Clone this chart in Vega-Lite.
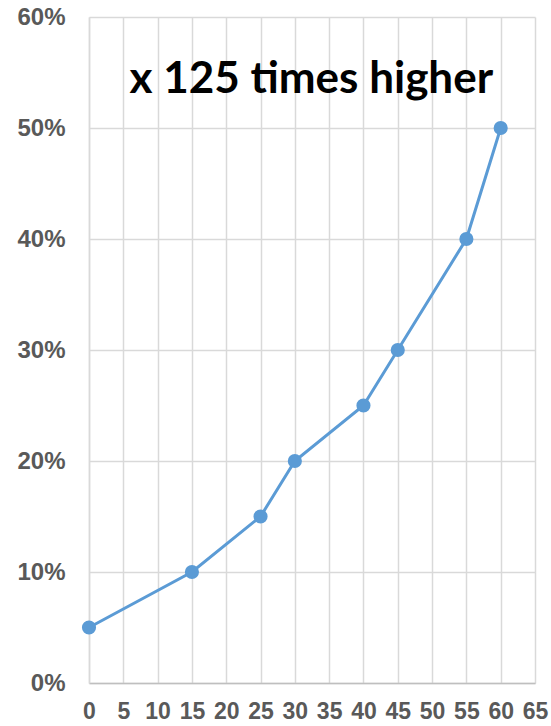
{
  "$schema": "https://vega.github.io/schema/vega-lite/v6.json",
  "width": 446,
  "height": 666,
  "autosize": "none",
  "padding": {"left": 89, "top": 17, "right": 16, "bottom": 43},
  "background": "white",
  "config": {"view": {"stroke": null}},
  "datasets": {
    "series": [
      {"age": 0, "rate": 0.05},
      {"age": 15, "rate": 0.10},
      {"age": 25, "rate": 0.15},
      {"age": 30, "rate": 0.20},
      {"age": 40, "rate": 0.25},
      {"age": 45, "rate": 0.30},
      {"age": 55, "rate": 0.40},
      {"age": 60, "rate": 0.50}
    ],
    "note": [{"age": 32.4, "rate": 0.543, "label": "x 125 times higher"}]
  },
  "encoding": {
    "x": {
      "field": "age", "type": "quantitative",
      "scale": {"domain": [0, 65], "nice": false},
      "axis": {
        "values": [0,5,10,15,20,25,30,35,40,45,50,55,60,65],
        "title": null, "grid": true, "gridColor": "#D9D9D9", "gridWidth": 1.5,
        "domainColor": "#BFBFBF", "domainWidth": 1.5, "ticks": false,
        "labelFont": "Liberation Sans", "labelFontSize": 23, "labelFontWeight": "bold",
        "labelColor": "#595959", "labelPadding": 17, "labelFlush": false, "labelOverlap": false
      }
    },
    "y": {
      "field": "rate", "type": "quantitative",
      "scale": {"domain": [0, 0.6], "nice": false},
      "axis": {
        "values": [0,0.1,0.2,0.3,0.4,0.5,0.6],
        "format": ".0%", "title": null, "grid": true, "gridColor": "#D9D9D9", "gridWidth": 1.5,
        "domainColor": "#D9D9D9", "domainWidth": 1.5, "ticks": false,
        "labelFont": "Liberation Sans", "labelFontSize": 24, "labelFontWeight": "bold",
        "labelColor": "#595959", "labelPadding": 24, "labelFlush": false
      }
    }
  },
  "layer": [
    {
      "data": {"name": "series"},
      "mark": {"type": "line", "color": "#5B9BD5", "strokeWidth": 3}
    },
    {
      "data": {"name": "series"},
      "mark": {"type": "point", "filled": true, "color": "#5B9BD5", "size": 200, "opacity": 1}
    },
    {
      "data": {"name": "note"},
      "mark": {"type": "text", "font": "Lato", "fontWeight": "bold", "fontSize": 44, "color": "#000000", "align": "center", "baseline": "middle"},
      "encoding": {
        "text": {"field": "label"}
      }
    }
  ]
}
